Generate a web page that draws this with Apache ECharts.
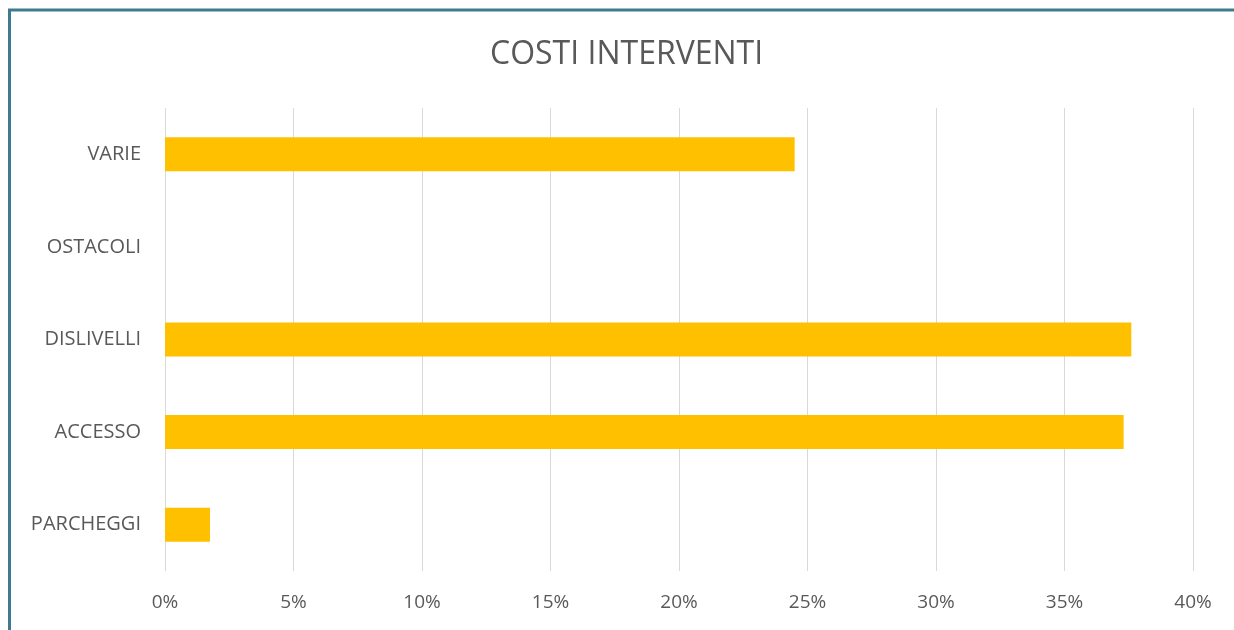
<!DOCTYPE html>
<html>
<head>
<meta charset="utf-8">
<script src="https://cdn.jsdelivr.net/npm/echarts@6/dist/echarts.min.js"></script>
<style>
  html, body { margin: 0; padding: 0; background: #fff; }
  #main { width: 1234px; height: 630px; }
</style>
</head>
<body>
<div id="main"></div>
<script>
  // dati
  var categories = ['PARCHEGGI', 'ACCESSO', 'DISLIVELLI', 'OSTACOLI', 'VARIE'];
  var percentages = [1.75, 37.3, 37.6, 0, 24.5];
  var title = 'COSTI INTERVENTI';

  var font = 'Open Sans';
  var chart = echarts.init(document.getElementById('main'));
  chart.setOption({
    animation: false,
    backgroundColor: '#fff',
    title: {
      text: title,
      left: 485,
      top: 34,
      textStyle: { color: '#595959', fontSize: 32, fontWeight: 'normal', fontFamily: font }
    },
    grid: { left: 165, right: 41, top: 108, bottom: 59, containLabel: false },
    xAxis: {
      type: 'value',
      min: 0,
      max: 40,
      interval: 5,
      axisLine: { show: false },
      axisTick: { show: false },
      splitLine: { lineStyle: { color: '#d9d9d9', width: 1 } },
      axisLabel: {
        formatter: '{value}%',
        color: '#595959',
        fontSize: 19,
        fontFamily: font,
        margin: 22
      }
    },
    yAxis: {
      type: 'category',
      data: categories,
      axisLine: { show: false },
      axisTick: { show: false },
      axisLabel: { color: '#595959', fontSize: 20, fontFamily: font, margin: 24 }
    },
    series: [{
      type: 'bar',
      data: percentages,
      barWidth: 34,
      itemStyle: { color: '#FFC000' }
    }],
    graphic: [
      { type: 'line', shape: { x1: 8, y1: 10, x2: 1234, y2: 10 }, style: { stroke: '#3E7C8C', lineWidth: 3 } },
      { type: 'line', shape: { x1: 9.5, y1: 9, x2: 9.5, y2: 630 }, style: { stroke: '#3E7C8C', lineWidth: 3 } }
    ]
  });
</script>
</body>
</html>
